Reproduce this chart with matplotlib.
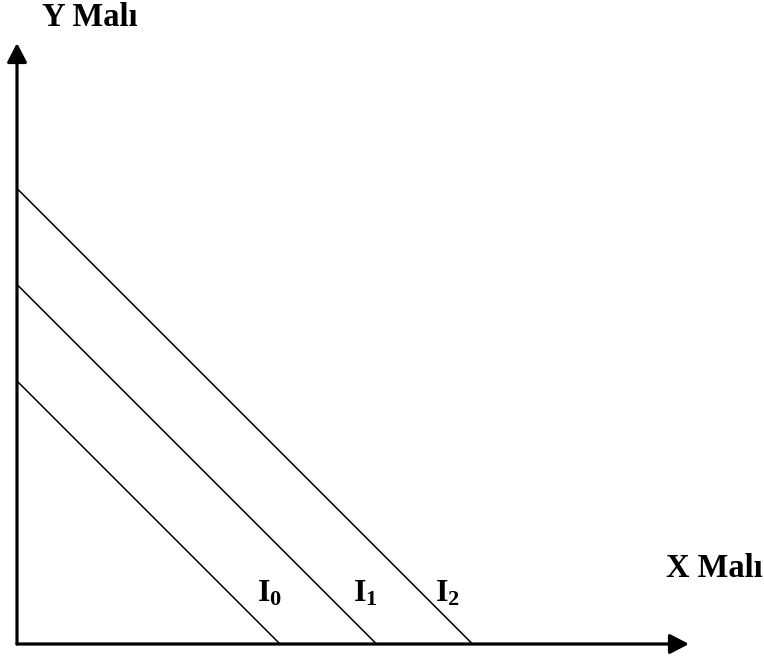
import numpy as np
import matplotlib
matplotlib.use("Agg")
import matplotlib.pyplot as plt

plt.rcParams['font.family'] = ['Liberation Serif', 'DejaVu Serif']
plt.rcParams['mathtext.fontset'] = 'custom'
plt.rcParams['mathtext.rm'] = 'Liberation Serif'
plt.rcParams['mathtext.bf'] = 'Liberation Serif:bold'

# indifference curves (perfect substitutes): same intercept on both axes
curve_names = ['I_0', 'I_1', 'I_2']
intercepts = [2.63, 3.595, 4.555]
label_x = [2.40, 3.36, 4.18]
label_y = 0.42

x_max, y_max = 6.72, 6.01

fig = plt.figure(figsize=(7.64, 6.57), dpi=100)
ax = fig.add_axes([17 / 764, 13 / 657, 672 / 764, 601 / 657])
ax.set_xlim(0, x_max)
ax.set_ylim(0, y_max)
ax.axis('off')

# axes with arrow heads
arrow = dict(arrowstyle='-|>,head_length=0.77,head_width=0.4',
             mutation_scale=15, lw=2.3, color='black', shrinkA=0, shrinkB=0)
ax.annotate('', xy=(x_max, 0), xytext=(0, 0), arrowprops=arrow, annotation_clip=False)
ax.annotate('', xy=(0, y_max), xytext=(0, 0), arrowprops=arrow, annotation_clip=False)

for name, c, lx in zip(curve_names, intercepts, label_x):
    xs = np.array([0, c])
    ax.plot(xs, c - xs, color='black', lw=1.1, solid_capstyle='butt', clip_on=False)
    ax.text(lx, label_y, r'$\mathbf{%s}$' % name, fontsize=23, ha='left', va='baseline')

fig.text(42 / 764, 1 - 26 / 657, 'Y Malı', fontsize=23.5, fontweight='bold',
         ha='left', va='baseline')
fig.text(666 / 764, 1 - 577 / 657, 'X Malı', fontsize=23.5, fontweight='bold',
         ha='left', va='baseline')

fig.savefig('out.png', dpi=100, facecolor='white')
